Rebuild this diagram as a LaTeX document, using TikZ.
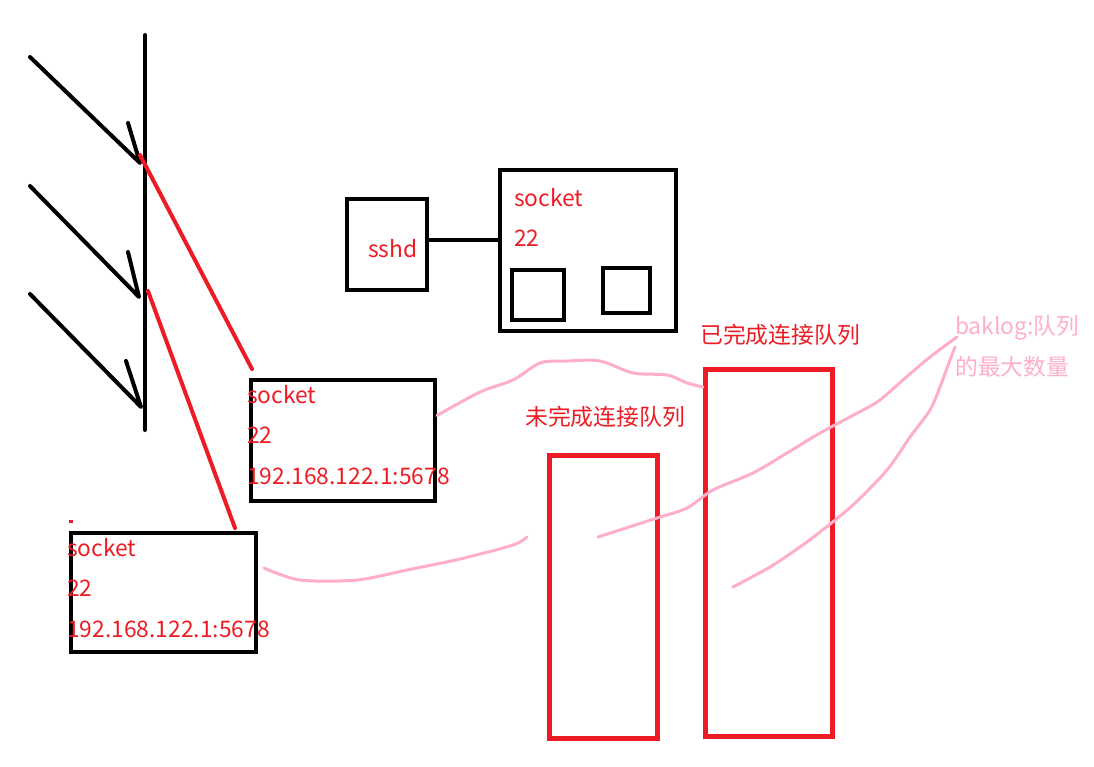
\documentclass[tikz,border=0pt]{standalone}
\usepackage{fontspec}
\setmainfont{Noto Sans CJK SC}
\usepackage{xcolor}
\usetikzlibrary{positioning,calc}
\definecolor{skRed}{RGB}{237,28,36}
\definecolor{skPink}{RGB}{255,174,201}
\tikzset{
    skBox/.style={
        rectangle,
        draw=black,
        line width=4pt,
        inner sep=0pt
    },
    skQueue/.style={
        rectangle,
        draw=skRed,
        line width=5pt,
        inner sep=0pt
    },
    % Texts
    skText/.style={
        text=skRed,
        font=\fontsize{22.8}{40.5}\selectfont,
        inner sep=0pt,
        align=left
    },
    skNote/.style={skText, text=skPink},
    % Lines
    skWire/.style={draw=black, line width=4pt, line cap=round, line join=round},
    skLink/.style={draw=skRed, line width=4pt, line cap=round},
    skCurve/.style={draw=skPink, line width=3pt, line cap=round, line join=round}
}

\begin{document}
\begin{tikzpicture}[x=1pt, y=-1pt]
    \useasboundingbox (0,0) rectangle (1094,767);

    % incoming connections
    \coordinate (busTop) at (145,35);
    \coordinate (busBot) at (145,430);
    \draw[skWire] (busTop) -- (busBot);
    \draw[skWire] (30,57) -- (140,163) -- (128,123);
    \draw[skWire] (30,186) -- (139,297) -- (128,252);
    \draw[skWire] (30,294) -- (141,407) -- (126,361);

    % listening socket
    \node[skBox, minimum width=80pt, minimum height=91pt] (sshd) at (387,244.5) {};
    \node[skText, anchor=base west] (sshdText) at (368,258) {sshd};
    \node[skBox, minimum width=176pt, minimum height=161pt] (lsock) at (588,250.5) {};
    \node[skText, anchor=base west] (lsockText) at (514,247) {socket\\22};
    \node[skBox, minimum width=52pt, minimum height=50pt] (slotA) at (538,295) {};
    \node[skBox, minimum width=47pt, minimum height=45pt] (slotB) at (626.5,290.5) {};
    \draw[skWire] ([yshift=4.5pt]sshd.east) -- ([yshift=4.5pt]sshd.east -| lsock.west);

    % connected sockets
    \node[skBox, minimum width=184pt, minimum height=121pt] (conn1) at (343,440.5) {};
    \node[skText, anchor=base west] (conn1Text) at (247,484) {socket\\22\\192.168.122.1:5678};
    \node[skBox, minimum width=185pt, minimum height=119pt] (conn2) at (163.5,592.5) {};
    \node[skText, anchor=base west] (conn2Text) at (67,637) {socket\\22\\192.168.122.1:5678};
    \draw[skRed, line width=3pt] (69,521) -- (73,521);

    \draw[skLink] (140,155) -- (252,369);
    \draw[skLink] (148,291) -- (235,528);

    % queues
    \node[skQueue, minimum width=108pt, minimum height=283pt] (pending) at (603.5,597) {};
    \node[skQueue, minimum width=127pt, minimum height=367pt] (done) at (769,553) {};
    \node[skText, anchor=base west] (pendingText) at (525,425) {未完成连接队列};
    \node[skText, anchor=base west] (doneText) at (700,343) {已完成连接队列};
    \node[skNote, anchor=base west] (backlog) at (955,375) {baklog:队列\\的最大数量};

    % annotations
    \coordinate (aS) at ([yshift=25pt]conn1.east);
    \coordinate (aE) at (done.west |- 0,387);
    \draw[skCurve] plot[smooth, tension=0.5] coordinates {(aS) (480,392) (513,380) (540,363) (567,361) (600,361) (633,373) (667,375) (687,383) (aE)};
    \coordinate (bS) at (264,568);
    \coordinate (bE) at (527,537);
    \draw[skCurve] plot[smooth, tension=0.5] coordinates {(bS) (300,580) (357,580) (407,570) (460,559) (513,545) (bE)};
    \coordinate (cS) at (598,537);
    \coordinate (cE) at (957,337);
    \draw[skCurve] plot[smooth, tension=0.5] coordinates {(cS) (657,518) (687,508) (713,490) (753,473) (787,453) (820,433) (863,410) (880,400) (903,380) (930,357) (cE)};
    \coordinate (dS) at (733,587);
    \coordinate (dE) at (955,347);
    \draw[skCurve] plot[smooth, tension=0.5] coordinates {(dS) (770,567) (800,547) (820,532) (853,505) (887,470) (910,437) (930,410) (940,387) (950,360) (dE)};
\end{tikzpicture}
\end{document}
